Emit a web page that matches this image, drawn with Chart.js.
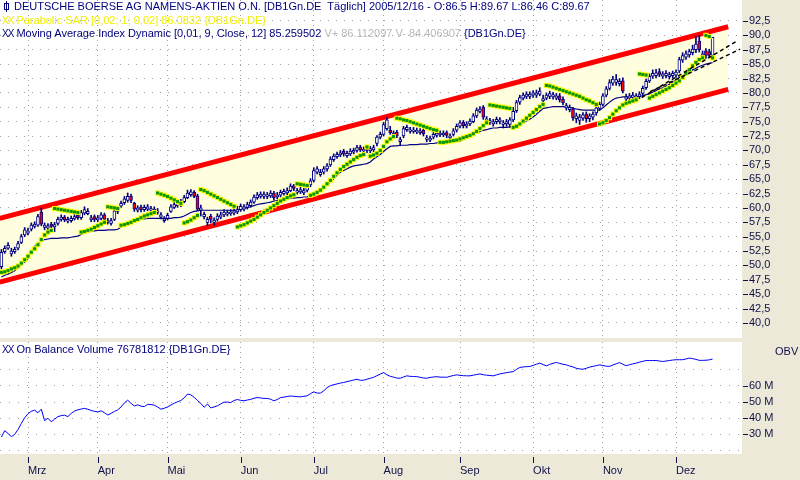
<!DOCTYPE html>
<html>
<head>
<meta charset="utf-8">
<title>DB1Gn.DE</title>
<script src="https://cdn.jsdelivr.net/npm/chart.js@4.4.1/dist/chart.umd.min.js"></script>
<style>
  body { margin: 0; width: 800px; height: 480px; overflow: hidden; position: relative; background: #ECE9D8; font-family: "Liberation Sans", Arial, sans-serif; }
  canvas { position: absolute; left: 0; }
  #priceChart { top: 0; }
  #obvChart { top: 341px; }
  .txt { position: absolute; font-size: 11px; line-height: 13px; white-space: pre; }
  .navy { color: #000080; }
  .sar { color: #F0F000; }
  .grey { color: #B8B8B8; }
  .xx { font-size: 10px; letter-spacing: -1px; }
  #iconWick { position: absolute; left: 6px; top: 1px; width: 1px; height: 11px; background: #000080; }
  #iconBody { position: absolute; left: 4px; top: 3px; width: 3px; height: 5px; border: 1px solid #000080; }
</style>
</head>
<body>
<canvas id="priceChart" width="800" height="339"></canvas>
<canvas id="obvChart" width="800" height="139"></canvas>

<div id="iconWick"></div><div id="iconBody"></div>
<div class="txt navy" style="left:14px;top:0px">DEUTSCHE BOERSE AG NAMENS-AKTIEN O.N. [DB1Gn.DE  Täglich] 2005/12/16 - O:86.5 H:89.67 L:86.46 C:89.67</div>
<div class="txt sar" style="left:2px;top:14px"><span class="xx">XX</span> Parabolic SAR [0,02; 1; 0,02] 86.0832 {DB1Gn.DE}</div>
<div class="txt navy" style="left:2px;top:27px"><span class="xx">XX</span> Moving Average Index Dynamic [0,01, 9, Close, 12] 85.259502<span class="grey"> V+ 86.112097 V- 84.406907</span> {DB1Gn.DE}</div>
<div class="txt navy" style="left:2px;top:343px"><span class="xx">XX</span> On Balance Volume 76781812 {DB1Gn.DE}</div>
<div class="txt" style="left:775px;top:345px;color:#101048">OBV</div>

<script>
// month labels and the trading-day index where each month starts
const months = ['Mrz', 'Apr', 'Mai', 'Jun', 'Jul', 'Aug', 'Sep', 'Okt', 'Nov', 'Dez'];
const monthStart = [8, 29, 50, 72, 94, 115, 138, 160, 181, 203];

const priceTicks = [40, 42.5, 45, 47.5, 50, 52.5, 55, 57.5, 60, 62.5, 65, 67.5, 70, 72.5, 75, 77.5, 80, 82.5, 85, 87.5, 90, 92.5];
const obvTicks = [20, 30, 40, 50, 60, 70];
const obvLabelled = [30, 40, 50, 60];

// daily candles, 17.02.2005 - 16.12.2005
const opens = [
  49.8, 52.4, 53.0, 52.0, 52.4, 53.0, 54.0, 55.3, 55.6, 56.3,
  56.8, 57.0, 59.3, 56.6, 56.5, 57.2, 56.7, 57.3, 58.0, 58.4,
  57.7, 57.8, 58.1, 58.7, 58.3, 59.1, 59.0, 57.9, 58.5, 57.9,
  58.2, 58.8, 57.5, 57.3, 58.0, 59.4, 60.3, 60.9, 61.3, 62.0,
  60.8, 59.6, 60.2, 59.7, 59.8, 59.6, 59.5, 59.2, 58.4, 57.8,
  58.2, 59.4, 60.1, 60.4, 60.5, 61.1, 61.8, 62.3, 62.7, 62.1,
  59.6, 58.5, 57.5, 58.6, 57.5, 58.0, 58.4, 58.8, 58.9, 59.0,
  59.1, 59.3, 59.7, 59.8, 60.1, 60.4, 61.0, 61.8, 62.0, 62.0,
  62.0, 62.1, 62.6, 61.9, 62.2, 62.5, 62.6, 63.0, 63.9, 62.7,
  62.8, 62.6, 63.1, 64.0, 64.8, 66.2, 65.8, 66.2, 66.8, 67.5,
  68.4, 68.9, 69.2, 69.9, 69.1, 69.4, 69.7, 70.0, 70.6, 69.9,
  70.4, 69.9, 70.1, 71.2, 72.3, 72.8, 73.8, 73.5, 72.7, 73.2,
  71.5, 72.5, 73.6, 73.3, 73.3, 73.2, 73.1, 73.5, 71.9, 71.8,
  72.3, 72.6, 72.7, 72.7, 73.1, 72.2, 72.8, 73.5, 74.2, 74.9,
  74.2, 74.6, 75.0, 76.0, 76.8, 77.5, 75.2, 74.9, 74.6, 75.0,
  75.0, 74.5, 74.6, 74.5, 75.3, 76.9, 78.4, 79.1, 79.4, 79.4,
  79.6, 79.6, 79.8, 78.6, 79.1, 79.4, 79.3, 79.1, 79.5, 78.9,
  77.4, 77.1, 77.2, 75.5, 75.2, 75.6, 76.3, 75.5, 75.8, 76.5,
  77.3, 78.0, 79.6, 80.8, 81.7, 81.8, 81.6, 82.1, 78.9, 79.1,
  79.2, 79.1, 79.4, 79.9, 80.9, 82.1, 82.9, 83.0, 83.7, 82.9,
  83.0, 82.8, 83.0, 83.1, 83.8, 85.7, 86.2, 86.6, 87.0, 87.5,
  89.0, 86.4, 87.3, 87.2, 86.5
];
const highs = [
  52.8, 53.4, 54.0, 53.0, 53.2, 54.2, 55.4, 56.6, 56.5, 57.4,
  57.6, 58.9, 60.0, 57.4, 57.3, 57.5, 57.5, 58.4, 58.8, 58.7,
  58.4, 58.6, 58.9, 59.0, 59.6, 60.2, 59.9, 58.7, 58.8, 58.7,
  59.2, 59.1, 58.2, 58.2, 59.9, 60.2, 61.2, 62.0, 62.6, 62.4,
  61.0, 60.4, 60.5, 60.5, 60.6, 60.3, 60.2, 59.9, 59.2, 58.5,
  59.1, 60.6, 61.0, 61.2, 61.5, 62.2, 63.1, 63.2, 63.0, 62.4,
  60.5, 59.3, 58.4, 58.9, 58.3, 59.0, 59.3, 59.7, 59.6, 59.7,
  59.9, 60.3, 60.7, 60.6, 61.0, 61.4, 62.3, 62.7, 62.8, 62.8,
  62.7, 63.0, 62.9, 62.7, 63.1, 63.3, 63.5, 64.2, 64.1, 63.4,
  63.6, 63.4, 64.3, 65.1, 67.0, 67.2, 66.7, 67.2, 67.7, 68.9,
  69.4, 69.7, 70.0, 70.2, 69.9, 70.3, 70.4, 70.9, 70.9, 70.6,
  70.7, 70.7, 70.9, 72.6, 73.2, 74.9, 75.7, 74.2, 73.4, 73.5,
  72.3, 74.2, 74.4, 74.0, 74.0, 73.9, 73.8, 73.8, 72.6, 72.5,
  73.2, 73.4, 73.4, 73.4, 73.4, 72.9, 73.8, 74.6, 75.2, 75.2,
  75.0, 75.5, 76.4, 77.4, 77.6, 77.8, 75.9, 75.6, 75.4, 75.8,
  75.7, 75.2, 75.4, 75.7, 77.5, 78.7, 79.6, 80.0, 80.2, 80.2,
  80.4, 80.5, 80.9, 79.6, 80.0, 80.3, 80.1, 79.9, 79.9, 79.3,
  78.2, 77.9, 77.5, 76.5, 76.3, 76.6, 76.7, 76.4, 76.7, 77.8,
  78.4, 79.9, 81.1, 82.3, 82.9, 83.2, 82.5, 82.6, 79.8, 79.9,
  80.1, 79.9, 80.2, 81.2, 82.4, 83.3, 84.0, 84.1, 84.2, 83.7,
  83.9, 83.6, 83.8, 84.0, 86.2, 87.0, 87.3, 87.6, 88.3, 89.8,
  90.0, 87.3, 87.7, 87.6, 89.67
];
const lows = [
  49.4, 52.1, 52.8, 51.6, 52.1, 52.7, 53.8, 55.0, 55.3, 56.0,
  56.5, 56.8, 56.9, 56.2, 56.2, 56.4, 55.9, 57.0, 57.7, 57.6,
  57.4, 57.5, 57.9, 58.0, 58.0, 58.8, 58.8, 57.6, 57.6, 57.6,
  57.9, 57.7, 57.2, 57.0, 57.8, 59.0, 60.1, 60.6, 61.0, 60.9,
  59.4, 59.3, 59.3, 59.4, 59.5, 59.2, 59.2, 58.9, 58.1, 57.5,
  57.9, 59.2, 59.9, 60.1, 60.2, 60.9, 61.6, 62.0, 61.8, 59.5,
  58.6, 58.1, 56.9, 57.4, 57.0, 57.7, 58.1, 58.5, 58.6, 58.7,
  58.8, 59.0, 59.4, 59.5, 59.8, 60.1, 60.8, 61.5, 61.7, 61.6,
  61.6, 61.8, 61.4, 61.6, 61.9, 62.2, 62.3, 62.8, 63.0, 62.4,
  62.5, 62.3, 62.8, 63.7, 64.5, 65.9, 65.5, 65.9, 66.4, 67.2,
  68.1, 68.6, 68.9, 69.0, 68.8, 69.1, 69.4, 69.7, 69.8, 69.6,
  69.6, 69.6, 69.8, 70.8, 72.0, 72.5, 73.5, 72.8, 72.3, 72.2,
  70.8, 72.2, 73.3, 73.0, 73.0, 72.9, 72.8, 72.5, 71.5, 71.5,
  72.0, 72.3, 72.4, 72.4, 72.2, 71.9, 72.5, 73.2, 73.9, 73.9,
  73.9, 74.3, 74.8, 75.7, 76.5, 75.4, 74.8, 74.5, 74.2, 74.6,
  74.6, 73.9, 74.2, 74.0, 75.0, 76.6, 78.0, 78.8, 79.0, 79.0,
  79.2, 79.2, 79.5, 78.2, 78.8, 79.0, 78.9, 78.8, 78.4, 77.9,
  77.0, 76.7, 75.2, 74.8, 74.5, 75.2, 74.9, 75.0, 75.3, 76.1,
  77.0, 77.7, 79.3, 80.5, 81.3, 81.3, 81.2, 80.0, 78.5, 78.7,
  78.9, 78.8, 79.0, 79.5, 80.6, 81.8, 82.5, 82.6, 82.8, 82.5,
  82.6, 82.4, 82.6, 82.7, 83.5, 85.3, 85.8, 86.2, 86.6, 87.0,
  87.1, 85.9, 86.0, 86.1, 86.46
];
const closes = [
  52.3, 53.0, 53.5, 52.5, 52.8, 53.8, 55.0, 56.2, 56.0, 57.0,
  57.2, 58.5, 57.2, 57.0, 56.9, 56.8, 57.1, 58.0, 58.4, 57.9,
  58.0, 58.2, 58.5, 58.3, 59.2, 59.7, 59.4, 58.3, 58.0, 58.3,
  58.8, 58.0, 57.8, 57.8, 59.5, 59.8, 60.8, 61.6, 62.0, 61.3,
  59.8, 60.0, 59.7, 60.1, 60.2, 59.9, 59.8, 59.5, 58.8, 58.1,
  58.7, 60.2, 60.6, 60.8, 61.0, 61.8, 62.6, 62.8, 62.0, 59.8,
  60.0, 58.9, 58.0, 58.0, 57.9, 58.6, 58.8, 59.3, 59.2, 59.3,
  59.5, 59.7, 60.3, 60.2, 60.6, 61.0, 61.9, 62.3, 62.4, 62.4,
  62.3, 62.6, 61.8, 62.3, 62.7, 62.9, 63.0, 63.8, 63.4, 63.0,
  63.2, 63.0, 63.9, 64.7, 66.5, 66.8, 66.2, 66.8, 67.3, 68.5,
  69.0, 69.3, 69.6, 69.4, 69.5, 69.9, 70.0, 70.5, 70.1, 70.2,
  70.0, 70.3, 70.5, 72.3, 72.8, 74.5, 75.3, 73.1, 73.0, 72.5,
  71.9, 73.8, 74.0, 73.6, 73.6, 73.5, 73.4, 72.9, 72.2, 72.1,
  72.8, 73.0, 73.0, 73.0, 72.6, 72.5, 73.4, 74.2, 74.8, 74.3,
  74.6, 75.1, 76.0, 77.0, 77.2, 75.8, 75.5, 75.2, 75.0, 75.4,
  75.3, 74.8, 75.0, 75.3, 76.8, 78.3, 79.2, 79.6, 79.8, 79.8,
  80.0, 80.0, 80.3, 79.0, 79.6, 79.9, 79.7, 79.5, 78.8, 78.3,
  77.8, 77.5, 75.7, 76.0, 75.8, 76.2, 75.5, 76.0, 76.3, 77.4,
  78.0, 79.5, 80.7, 81.8, 82.4, 82.3, 82.0, 80.3, 79.3, 79.5,
  79.6, 79.5, 79.8, 80.8, 82.0, 82.9, 83.4, 83.5, 83.2, 83.3,
  83.4, 83.2, 83.4, 83.6, 85.8, 86.5, 86.8, 87.2, 87.6, 88.5,
  87.5, 86.8, 86.5, 86.5, 89.67
];

// Parabolic SAR [0,02; 1; 0,02]
const sar = [
  48.8, 48.9, 49.1, 49.4, 49.6, 49.9, 50.4, 51.0, 51.6, 52.3,
  52.9, 53.6, 54.5, 55.3, 55.8, 56.1, 59.9, 59.8, 59.7, 59.6,
  59.5, 59.4, 59.3, 59.2, 55.8, 55.9, 56.1, 56.3, 56.6, 56.9,
  57.2, 57.5, 60.2, 60.1, 60.0, 59.9, 57.0, 57.1, 57.3, 57.5,
  57.8, 58.0, 58.3, 58.6, 58.8, 59.0, 59.2, 62.6, 62.4, 62.2,
  62.0, 61.7, 61.4, 61.1, 60.8, 57.4, 57.6, 57.9, 58.3, 58.7,
  63.2, 63.0, 62.7, 62.4, 62.1, 61.8, 61.5, 61.2, 60.9, 60.6,
  60.3, 56.7, 56.9, 57.1, 57.4, 57.7, 58.0, 58.4, 58.8, 59.2,
  59.6, 60.0, 60.4, 60.8, 61.2, 61.5, 61.8, 62.1, 62.3, 64.2,
  64.1, 64.0, 63.9, 62.2, 62.4, 62.7, 63.1, 63.6, 64.2, 64.8,
  65.5, 66.1, 66.7, 67.2, 67.6, 68.0, 68.4, 68.8, 69.1, 69.3,
  70.6, 69.0, 69.2, 69.5, 70.0, 70.7, 71.5, 72.0, 72.4, 75.6,
  75.5, 75.3, 75.2, 75.0, 74.8, 74.6, 74.4, 74.2, 74.0, 73.8,
  73.6, 73.5, 71.4, 71.4, 71.5, 71.6, 71.7, 71.8, 72.0, 72.2,
  72.4, 72.6, 72.9, 73.3, 73.8, 74.3, 74.8, 77.9, 77.8, 77.7,
  77.6, 77.5, 77.4, 77.3, 74.0, 74.2, 74.6, 75.1, 75.6, 76.1,
  76.6, 77.1, 77.6, 78.0, 81.3, 81.2, 81.0, 80.8, 80.6, 80.4,
  80.2, 80.0, 79.8, 79.6, 79.4, 79.1, 78.8, 78.6, 78.3, 78.0,
  74.6, 74.8, 75.2, 75.7, 76.3, 76.9, 77.4, 77.9, 78.2, 78.4,
  78.6, 78.8, 83.3, 83.2, 83.1, 79.1, 79.4, 79.7, 80.0, 80.3,
  80.6, 80.9, 81.3, 81.7, 82.1, 82.7, 83.4, 84.0, 84.7, 85.3,
  85.8, 86.1, 90.0, 89.8, 86.08
];

// Moving Average Index Dynamic [0,01, 9, Close, 12]
const maLine = [
  48.0, 48.3, 48.5, 48.8, 49.1, 49.6, 50.1, 50.6, 51.2, 52.4,
  53.3, 53.9, 54.2, 54.5, 54.6, 54.7, 54.7, 54.7, 54.8, 54.8,
  54.8, 54.9, 55.0, 55.1, 55.4, 55.6, 55.8, 55.9, 56.0, 56.1,
  56.1, 56.1, 56.2, 56.2, 56.2, 56.3, 56.7, 57.1, 57.4, 57.6,
  57.8, 57.9, 58.0, 58.1, 58.2, 58.2, 58.2, 58.2, 58.2, 58.2,
  58.2, 58.2, 58.3, 58.3, 58.4, 58.6, 58.9, 59.2, 59.4, 59.5,
  59.6, 59.6, 59.6, 59.6, 59.6, 59.6, 59.6, 59.6, 59.6, 59.6,
  59.6, 59.6, 59.8, 59.9, 60.1, 60.2, 60.4, 60.6, 60.7, 60.8,
  60.9, 61.0, 61.2, 61.3, 61.4, 61.5, 61.6, 61.7, 61.7, 61.8,
  61.8, 61.9, 61.9, 62.2, 62.5, 62.8, 63.1, 63.6, 64.0, 64.5,
  65.1, 65.7, 66.2, 66.5, 66.8, 67.1, 67.3, 67.4, 67.5, 67.6,
  67.7, 68.0, 68.5, 68.9, 69.3, 69.8, 70.3, 70.7, 70.8, 70.8,
  70.9, 70.9, 70.9, 71.0, 71.0, 71.0, 71.1, 71.1, 71.1, 71.2,
  71.2, 71.3, 71.3, 71.4, 71.4, 71.5, 71.5, 71.6, 71.6, 71.9,
  72.2, 72.5, 72.8, 73.0, 73.3, 73.5, 73.6, 73.8, 73.9, 73.9,
  74.0, 74.0, 74.0, 74.1, 74.2, 74.4, 74.6, 74.8, 75.1, 75.4,
  75.8, 76.3, 76.8, 77.3, 77.4, 77.5, 77.6, 77.6, 77.6, 77.6,
  77.5, 77.5, 77.3, 77.2, 77.1, 77.0, 77.0, 77.0, 77.0, 77.0,
  77.0, 77.4, 77.9, 78.4, 78.8, 79.1, 79.2, 79.3, 79.3, 79.3,
  79.3, 79.3, 79.4, 79.5, 79.7, 79.8, 80.1, 80.4, 80.7, 80.9,
  81.2, 81.5, 81.9, 82.3, 82.7, 83.0, 83.3, 83.6, 84.0, 84.3,
  84.6, 84.8, 85.0, 85.15, 85.26
];

// On Balance Volume, in millions
const obv = [
  28.3, 32.3, 30.5, 28.6, 30.0, 33.0, 36.8, 40.3, 42.8, 44.3,
  45.0, 43.4, 45.6, 38.5, 40.0, 37.8, 39.4, 41.0, 41.6, 41.9,
  41.0, 43.0, 44.4, 45.2, 45.7, 46.1, 45.6, 44.8, 44.3, 43.9,
  44.6, 43.4, 42.0, 43.0, 44.2, 45.2, 47.0, 49.5, 51.2, 49.2,
  47.6, 48.3, 47.5, 47.2, 48.6, 48.5, 48.1, 47.0, 45.6, 46.2,
  47.0, 48.2, 49.3, 50.2, 51.0, 52.6, 55.0, 54.5, 53.0, 51.0,
  49.2, 46.8, 48.8, 46.4, 47.0, 47.7, 48.9, 50.0, 50.0, 49.7,
  51.0, 51.6, 51.1, 50.8, 51.3, 51.7, 52.4, 52.8, 52.6, 52.3,
  52.3, 51.8, 50.8, 51.6, 52.8, 53.1, 53.5, 53.8, 53.6, 53.4,
  53.3, 53.6, 53.9, 55.2, 56.4, 55.6, 55.6, 57.0, 59.0, 60.2,
  60.8, 61.3, 61.8, 62.2, 62.7, 63.2, 63.7, 64.2, 63.5, 63.6,
  64.2, 64.8, 65.4, 66.4, 67.4, 68.3, 67.0, 66.0, 65.5, 64.9,
  64.8, 65.6, 66.3, 66.0, 65.9, 65.8, 65.4, 65.0, 64.8, 65.3,
  65.6, 65.8, 65.5, 65.5, 65.4, 66.0, 66.5, 66.9, 66.6, 66.4,
  66.3, 66.3, 66.7, 67.1, 67.5, 67.0, 66.7, 66.5, 66.3, 66.9,
  67.5, 67.9, 68.3, 68.6, 68.9, 70.3, 71.5, 71.8, 72.0, 72.1,
  72.8, 73.5, 74.2, 73.3, 72.5, 73.4, 74.1, 74.6, 74.0, 73.5,
  73.1, 72.4, 71.8, 71.0, 70.6, 70.4, 71.0, 71.7, 72.2, 72.6,
  73.1, 72.7, 72.3, 72.2, 73.0, 73.8, 74.5, 73.5, 72.6, 73.2,
  73.7, 74.2, 74.8, 75.3, 75.8, 75.8, 75.8, 75.8, 75.5, 75.2,
  75.5, 75.8, 76.1, 76.3, 76.3, 76.3, 76.8, 77.3, 77.0, 76.5,
  75.9, 75.9, 76.0, 76.2, 76.78
];

// trend channel (red) and the two dashed trend lines, as [start, end] in day index / price
const channelX = [-0.5, 218.7];
const channelUpper = [58.2, 91.5];
const channelLower = [47.1, 80.6];
const trendAX = [192.7, 221.3];
const trendAY = [79.2, 89.0];
const trendBX = [195.2, 222.3];
const trendBY = [80.2, 87.6];

const textColour = '#101048';
const navy = '#000080';
const tickFont = { family: 'Liberation Sans', size: 11 };
const xMin = -0.426;
const xMax = 222.86;

const pts = (xs, ys) => xs.map((x, k) => ({ x: x, y: ys[k] }));
const series = ys => ys.map((y, i) => ({ x: i, y: y }));

// keep the plot area flush with the canvas edges, whatever the labels want
function fixSize(w, h) {
  return s => {
    if (w !== null) s.width = w;
    if (h !== null) s.height = h;
    s.paddingTop = 0; s.paddingBottom = 0; s.paddingLeft = 0; s.paddingRight = 0;
  };
}

// white plot area on the beige window
const plotBackground = {
  id: 'plotBackground',
  beforeDraw(chart) {
    const { ctx, chartArea: a } = chart;
    ctx.save();
    ctx.fillStyle = '#FFFFFF';
    ctx.fillRect(a.left, a.top, a.right - a.left, a.bottom - a.top);
    ctx.restore();
  }
};

// little "-" marks before the right-hand labels, and month ticks under the bottom panel
function axisMarks(labelledY, withX) {
  return {
    id: 'axisMarks',
    afterDraw(chart) {
      const { ctx, chartArea: a, scales } = chart;
      ctx.save();
      ctx.strokeStyle = textColour;
      ctx.lineWidth = 1;
      ctx.beginPath();
      scales.y.ticks.forEach(t => {
        if (labelledY && !labelledY.includes(t.value)) return;
        const py = Math.round(scales.y.getPixelForValue(t.value)) + 0.5;
        ctx.moveTo(a.right + 1, py);
        ctx.lineTo(a.right + 6, py);
      });
      if (withX) {
        scales.x.ticks.forEach(t => {
          const px = Math.round(scales.x.getPixelForValue(t.value)) + 0.5;
          ctx.moveTo(px, a.bottom + 3);
          ctx.lineTo(px, a.bottom + 9);
        });
      }
      ctx.stroke();
      ctx.restore();
    }
  };
}

const commonOptions = {
  responsive: false,
  animation: false,
  devicePixelRatio: 1,
  events: [],
  plugins: { legend: { display: false }, tooltip: { enabled: false } }
};

const bodyColours = opens.map((o, i) => closes[i] >= o ? '#FFFFFF' : '#FF0000');

new Chart(document.getElementById('priceChart'), {
  type: 'bar',
  data: {
    datasets: [
      {
        type: 'line', data: pts(channelX, channelUpper),
        borderColor: '#FF0000', borderWidth: 5, pointRadius: 0,
        fill: '+1', backgroundColor: 'rgb(255,255,224)', order: 10
      },
      {
        type: 'line', data: pts(channelX, channelLower),
        borderColor: '#FF0000', borderWidth: 5, pointRadius: 0, fill: false, order: 9
      },
      {
        type: 'line', data: series(maLine),
        borderColor: navy, borderWidth: 1.2, pointRadius: 0, fill: false, order: 5
      },
      {
        type: 'bar', data: lows.map((l, i) => ({ x: i, y: [l, highs[i]] })),
        backgroundColor: navy, borderWidth: 0, barThickness: 1, grouped: false, order: 4
      },
      {
        type: 'bar', data: opens.map((o, i) => ({ x: i, y: [o, closes[i]] })),
        backgroundColor: bodyColours, borderColor: navy, borderWidth: 1,
        borderSkipped: false, barThickness: 3, grouped: false, order: 3
      },
      {
        type: 'line', data: series(sar), showLine: false,
        pointStyle: 'rect', pointRadius: 3.6, pointBorderWidth: 0,
        pointBackgroundColor: '#FFFF00', order: 2
      },
      {
        type: 'line', data: series(sar), showLine: false,
        pointStyle: 'rect', pointRadius: 2.2, pointBorderWidth: 0,
        pointBackgroundColor: '#0A960A', order: 1
      },
      {
        type: 'line', data: pts(trendAX, trendAY),
        borderColor: '#000000', borderWidth: 1.5, borderDash: [4, 3], pointRadius: 0, fill: false, order: 0
      },
      {
        type: 'line', data: pts(trendBX, trendBY),
        borderColor: '#000000', borderWidth: 1.5, borderDash: [4, 3], pointRadius: 0, fill: false, order: 0
      }
    ]
  },
  options: {
    ...commonOptions,
    layout: { padding: 0, autoPadding: false },
    scales: {
      x: {
        type: 'linear', min: xMin, max: xMax, offset: false,
        afterBuildTicks: s => { s.ticks = monthStart.map(v => ({ value: v })); },
        afterFit: fixSize(null, 1),
        ticks: { display: false, autoSkip: false },
        grid: { color: '#A0A0A0', lineWidth: 1, drawTicks: false, offset: false },
        border: { display: false, dash: [1, 4] }
      },
      y: {
        type: 'linear', position: 'right', min: 37.39, max: 96.15,
        afterBuildTicks: s => { s.ticks = priceTicks.map(v => ({ value: v })); },
        afterFit: fixSize(58, null),
        ticks: {
          autoSkip: false, padding: 7, color: textColour, font: tickFont,
          callback: v => v.toFixed(1).replace('.', ',')
        },
        grid: { color: '#A0A0A0', lineWidth: 1, drawTicks: false },
        border: { display: false, dash: [1, 7] }
      }
    }
  },
  plugins: [plotBackground, axisMarks(null, false)]
});

new Chart(document.getElementById('obvChart'), {
  type: 'line',
  data: {
    datasets: [{
      data: series(obv), borderColor: '#0000FF', borderWidth: 1, pointRadius: 0, fill: false
    }]
  },
  options: {
    ...commonOptions,
    layout: { padding: { top: 1 }, autoPadding: false },
    scales: {
      x: {
        type: 'linear', min: xMin, max: xMax, offset: false,
        afterBuildTicks: s => { s.ticks = monthStart.map(v => ({ value: v })); },
        afterFit: fixSize(null, 26),
        ticks: {
          autoSkip: false, maxRotation: 0, align: 'start', padding: 10,
          color: textColour, font: tickFont,
          callback: v => months[monthStart.indexOf(v)]
        },
        grid: { color: '#A0A0A0', lineWidth: 1, drawTicks: false },
        border: { display: false, dash: [1, 4] }
      },
      y: {
        type: 'linear', position: 'right', min: 17.8, max: 87.3,
        afterBuildTicks: s => { s.ticks = obvTicks.map(v => ({ value: v })); },
        afterFit: fixSize(58, null),
        ticks: {
          autoSkip: false, padding: 7, color: textColour, font: tickFont,
          callback: v => obvLabelled.includes(v) ? v + ' M' : ''
        },
        grid: { color: '#A0A0A0', lineWidth: 1, drawTicks: false },
        border: { display: false, dash: [1, 8] }
      }
    }
  },
  plugins: [plotBackground, axisMarks(obvLabelled, true)]
});
</script>
</body>
</html>
